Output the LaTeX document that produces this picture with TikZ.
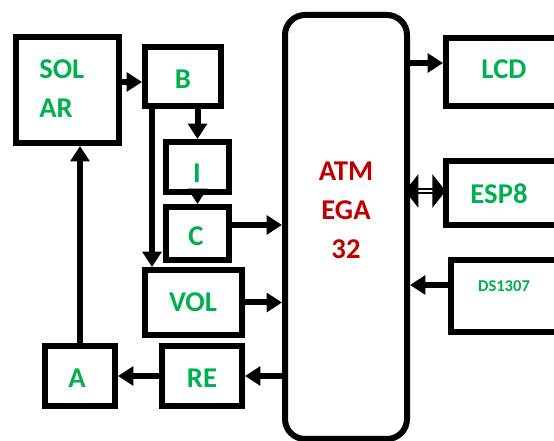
\documentclass[tikz,border=0pt]{standalone}
\usepackage{fontspec}
\setmainfont{Carlito}
\usetikzlibrary{arrows.meta,calc}
\definecolor{tgreen}{RGB}{0,176,80}
\definecolor{tred}{RGB}{192,0,0}
\begin{document}
\begin{tikzpicture}[x=0.75pt,y=-0.75pt,
  box/.style 2 args={draw, line width=4.5pt, inner sep=0pt, minimum width={#1*0.75pt}, minimum height={#2*0.75pt}},
  txt/.style={font=\bfseries\fontsize{21.5pt}{29.25pt}\selectfont, text=tgreen, inner sep=0pt, align=center},
  arr/.style={line width=4.5pt, -{Triangle[length=11.5pt,width=14pt]}},
  dbl/.style={double=white, double distance=1.2pt, line width=1.5pt, {Triangle[length=10pt,width=25pt]}-{Triangle[length=10pt,width=25pt]}}]
\path[use as bounding box] (0,0) rectangle (554,441);
\clip (0,0) rectangle (554,441);
% boxes
\node[box={103}{106}] (solar) at (67.5,90) {};
\node[box={76}{59}] (b) at (183,76.5) {};
\node[box={63}{50}] (i) at (197.5,167) {};
\node[box={63}{53}] (c) at (197.5,233.5) {};
\node[box={97}{65}] (vol) at (193.5,302.5) {};
\node[box={70}{60}] (a) at (80,376) {};
\node[box={80}{60}] (re) at (202,376) {};
\node[box={122}{424}, rounded corners=15pt] (atm) at (346,227) {};
\node[box={171}{68}] (lcd) at (531.5,72) {};
\node[box={171}{64}] (esp) at (531.5,193) {};
\node[box={166}{72}] (ds) at (534,296) {};
% texts
\node[txt, anchor=west, align=left] (solarT) at (39,88.5) {SOL\\AR};
\node[txt] (bT) at (183,79) {B};
\node[txt] (iT) at (197,173) {I};
\node[txt] (cT) at (196,236) {C};
\node[txt] (volT) at (193,302) {VOL};
\node[txt] (aT) at (77,378) {A};
\node[txt] (reT) at (202,378) {RE};
\node[txt, text=tred] (atmT) at (346,210) {ATM\\EGA\\32};
\node[txt] (lcdT) at (504,69) {LCD};
\node[txt] (espT) at (499,194) {ESP8};
\node[txt, font=\bfseries\fontsize{12.4pt}{14pt}\selectfont] (dsT) at (504,286) {DS1307};
% connectors
\draw[arr] ([yshift=6pt]solar.east) -- ([yshift=6pt]solar.east -| b.west);
\draw[arr] (i.north |- b.south) -- (i.north);
\draw[arr] (i.south) -- (c.north);
\draw[arr] ([xshift=7.5pt]b.south west) -- ([xshift=7.5pt]b.south west |- vol.north);
\draw[arr] ([yshift=6.4pt]c.east) -- ([yshift=6.4pt]c.east -| atm.west);
\draw[arr] (vol.east) -- (vol.east -| atm.west);
\draw[arr] (re.east -| atm.west) -- (re.east);
\draw[arr] (re.west) -- (a.east);
\draw[arr] (a.north) -- (a.north |- solar.south);
\draw[arr] ([yshift=6.75pt]lcd.west -| atm.east) -- ([yshift=6.75pt]lcd.west);
\draw[dbl] ([xshift=-3.75pt,yshift=1.5pt]esp.west -| atm.east) -- ([xshift=2pt,yshift=1.5pt]esp.west);
\draw[arr] ([yshift=8.25pt]ds.west) -- ([yshift=8.25pt]ds.west -| atm.east);
\end{tikzpicture}
\end{document}
